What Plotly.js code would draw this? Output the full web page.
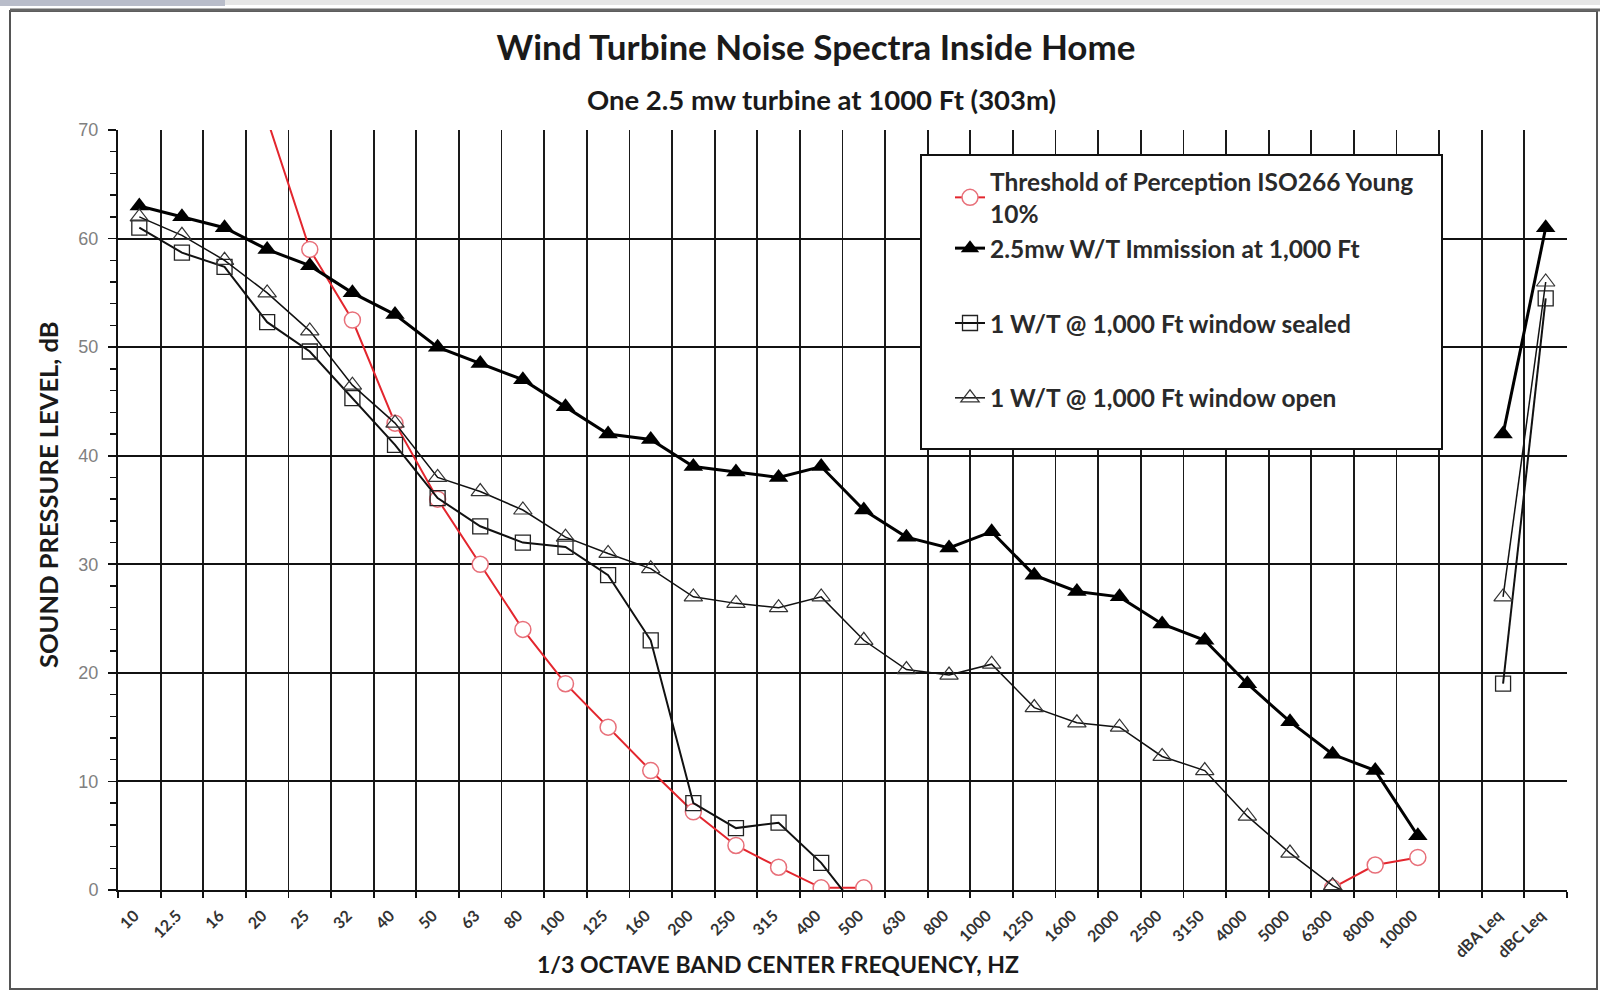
<!DOCTYPE html>
<html>
<head>
<meta charset="utf-8">
<script src="https://cdn.plot.ly/plotly-3.0.1.min.js"></script>
<style>
  html, body { margin: 0; padding: 0; background: #ffffff; }
  #chart { width: 1600px; height: 992px; }
</style>
</head>
<body>
<div id="chart"></div>
<script>
// ---- Data ----
const freqLabels = ["10","12.5","16","20","25","32","40","50","63","80","100","125","160","200","250","315","400","500","630","800","1000","1250","1600","2000","2500","3150","4000","5000","6300","8000","10000"," ","dBA Leq","dBC Leq"];

const thresholdISO266 = [null,null,null,71,59,52.5,43,36,30,24,19,15,11,7.2,4.1,2.1,0.2,0.2,-1.5,null,null,null,null,null,null,null,null,null,0.2,2.3,3,null,null,null];

const immission1000ft = [63,62,61,59,57.5,55,53,50,48.5,47,44.5,42,41.5,39,38.5,38,39,35,32.5,31.5,33,29,27.5,27,24.5,23,19,15.5,12.5,11,5,null,42,61];

const windowSealed = [61,58.7,57.4,52.3,49.6,45.3,41,36.1,33.5,32,31.6,29,23,8,5.7,6.2,2.5,-2.5,null,null,null,null,null,null,null,null,null,null,null,null,null,null,19,54.5];

const windowOpen = [62,60.3,58,55,51.5,46.5,43,38,36.7,35,32.5,31,29.6,27,26.4,26,27,23,20.3,19.8,20.8,16.8,15.4,15,12.3,11,6.8,3.4,0.4,-1.5,null,null,27,56];

const seriesNames = [
  "Threshold of Perception ISO266 Young<br>10%",
  "2.5mw W/T Immission at 1,000 Ft",
  "1 W/T @ 1,000 Ft window sealed",
  "1 W/T @ 1,000 Ft window open"
];

const FONT = "Lato, 'Open Sans', sans-serif";

const traces = [
  {
    x: freqLabels, y: thresholdISO266, name: seriesNames[0], type: "scatter", mode: "lines+markers",
    legendgroup: "a",
    line: { color: "#e3262e", width: 2 },
    marker: { symbol: "circle", size: 16, color: "#ffffff", line: { color: "#e8707a", width: 1.5 } },
    connectgaps: false
  },
  {
    x: freqLabels, y: immission1000ft, name: seriesNames[1], type: "scatter", mode: "lines+markers",
    legendgroup: "a",
    line: { color: "#000000", width: 3 },
    marker: { symbol: "triangle-up", size: 17, color: "#000000" },
    connectgaps: false
  },
  {
    x: freqLabels, y: windowSealed, name: seriesNames[2], type: "scatter", mode: "lines+markers",
    legendgroup: "b",
    line: { color: "#111111", width: 2 },
    marker: { symbol: "square-open", size: 15, color: "#222222", line: { width: 1.3 } },
    connectgaps: false
  },
  {
    x: freqLabels, y: windowOpen, name: seriesNames[3], type: "scatter", mode: "lines+markers",
    legendgroup: "c",
    line: { color: "#111111", width: 1.5 },
    marker: { symbol: "triangle-up-open", size: 16, color: "#333333", line: { width: 1.2 } },
    connectgaps: false
  }
];

// plot area: x 118..1567, y 130..890 (px)
const L = 118, R = 1567, T = 130, B = 890;
const px = v => (v - L) / (R - L);
const py = v => (B - v) / (B - T);

const layout = {
  width: 1600, height: 992,
  paper_bgcolor: "#ffffff", plot_bgcolor: "#ffffff",
  margin: { l: L, r: 1600 - R, t: T, b: 992 - B, pad: 0 },
  font: { family: FONT, color: "#222222" },
  title: {
    text: "Wind Turbine Noise Spectra Inside Home",
    font: { family: FONT, size: 35, weight: 700, color: "#1a1a1a" },
    xref: "container", yref: "container", x: 816 / 1600, xanchor: "center",
    y: 1 - 48 / 992, yanchor: "middle"
  },
  showlegend: true,
  legend: {
    x: px(950), xanchor: "left", y: py(159), yanchor: "top",
    bgcolor: "rgba(0,0,0,0)", borderwidth: 0,
    font: { family: FONT, size: 24.5, weight: 700, color: "#2a2a2a" },
    traceorder: "grouped", tracegroupgap: 40
  },
  xaxis: {
    type: "category", categoryorder: "array", categoryarray: freqLabels,
    range: [-0.5, freqLabels.length - 0.5],
    tickson: "boundaries", ticks: "outside", ticklen: 6, tickwidth: 1.8, tickcolor: "#111111",
    showgrid: true, gridcolor: "#1a1a1a", gridwidth: 1.8,
    showline: true, linecolor: "#111111", linewidth: 2,
    tickangle: -45, ticklabelstandoff: 8, ticklabelshift: -5,
    tickfont: { family: FONT, size: 16, weight: 700, color: "#333333" },
    zeroline: false, fixedrange: true, automargin: false
  },
  yaxis: {
    range: [0, 70], tick0: 0, dtick: 10,
    showgrid: true, gridcolor: "#111111", gridwidth: 2,
    zeroline: false, showline: true, linecolor: "#111111", linewidth: 2,
    ticks: "outside", ticklen: 8, tickwidth: 1.8, tickcolor: "#111111",
    ticklabelstandoff: 6,
    tickfont: { family: "'Liberation Sans', Arial, sans-serif", size: 18, color: "#808080" },
    minor: { dtick: 2, ticks: "outside", ticklen: 6, tickwidth: 1.4, tickcolor: "#111111", showgrid: false },
    fixedrange: true, automargin: false
  },
  annotations: [
    {
      text: "One 2.5 mw turbine at 1000 Ft (303m)",
      xref: "paper", yref: "paper", x: px(821), y: py(99), xanchor: "center", yanchor: "middle",
      showarrow: false, font: { family: FONT, size: 27.5, weight: 700, color: "#1a1a1a" }
    },
    {
      text: "SOUND PRESSURE LEVEL, dB",
      xref: "paper", yref: "paper", x: px(48), y: py(495), xanchor: "center", yanchor: "middle",
      textangle: -90, showarrow: false, font: { family: FONT, size: 25.5, weight: 700, color: "#1a1a1a" }
    },
    {
      text: "1/3 OCTAVE BAND CENTER FREQUENCY, HZ",
      xref: "paper", yref: "paper", x: px(778), y: py(964), xanchor: "center", yanchor: "middle",
      showarrow: false, font: { family: FONT, size: 23, weight: 700, color: "#1a1a1a" }
    }
  ],
  shapes: [
    // outer chart frame
    { type: "rect", xref: "paper", yref: "paper", x0: px(10), x1: px(1597), y0: py(989), y1: py(11),
      line: { color: "#555555", width: 2 }, fillcolor: "rgba(0,0,0,0)", layer: "below" },
    { type: "line", xref: "paper", yref: "paper", x0: px(10), x1: px(1600), y0: py(10), y1: py(10),
      line: { color: "#666666", width: 3 }, layer: "below" },
    // top strip
    { type: "rect", xref: "paper", yref: "paper", x0: px(0), x1: px(1600), y0: py(5), y1: py(0),
      line: { width: 0 }, fillcolor: "#e6e6e6", layer: "below" },
    { type: "rect", xref: "paper", yref: "paper", x0: px(0), x1: px(225), y0: py(6), y1: py(0),
      line: { width: 0 }, fillcolor: "#b9bdca", layer: "below" },
    // legend box
    { type: "rect", xref: "paper", yref: "paper", x0: px(921), x1: px(1442), y0: py(449), y1: py(155),
      line: { color: "#111111", width: 2 }, fillcolor: "#ffffff", layer: "above" }
  ]
};

Plotly.newPlot("chart", traces, layout, { displayModeBar: false, staticPlot: true });
</script>
</body>
</html>
